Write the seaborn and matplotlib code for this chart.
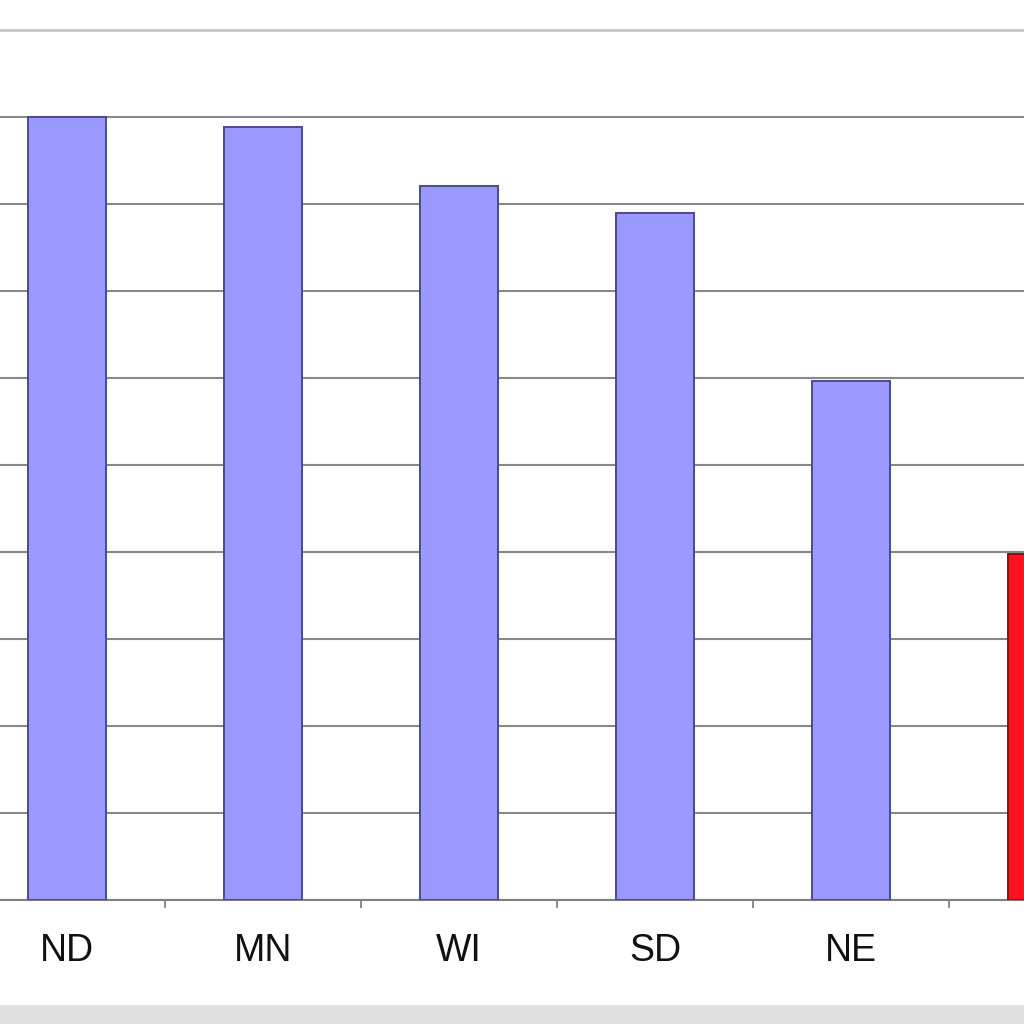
import matplotlib
matplotlib.use('Agg')
import pandas as pd
import matplotlib.pyplot as plt
import seaborn as sns
from matplotlib.patches import Rectangle

states = ["ND", "MN", "WI", "SD", "NE", "IA"]
values = [9.0, 8.89, 8.21, 7.9, 5.97, 3.98]
groups = ["other", "other", "other", "other", "other", "highlight"]

df = pd.DataFrame({"state": states, "value": values, "group": groups})

sns.set_style("white")
plt.rcParams['font.family'] = ['Liberation Sans', 'DejaVu Sans']

fig = plt.figure(figsize=(10.24, 10.24), dpi=100)
# plot area is cropped: left axis and last category fall outside the picture
ax = fig.add_axes([-31 / 1024, 124 / 1024, 1176 / 1024, 870 / 1024])

sns.barplot(data=df, x="state", y="value", hue="group",
            palette={"other": "#9999ff", "highlight": "#ff1020"},
            saturation=1, width=0.4, linewidth=1.4,
            dodge=False, legend=False, ax=ax, zorder=3)

edge = {"other": "#4a4a8c", "highlight": "#8c1010"}
for bar, g in zip(ax.patches, df["group"]):
    bar.set_edgecolor(edge[g])

ax.set_xlim(-0.5, len(states) - 0.5)
ax.set_ylim(0, 10)
ax.set_yticks(range(0, 11))
ax.set_yticklabels([])
ax.yaxis.grid(True, color="#888888", linewidth=1.5, zorder=0)
ax.set_axisbelow(True)

ax.set_xlabel("")
ax.set_ylabel("")
# last category's label lies off the cropped picture
ax.set_xticks(range(len(states)))
ax.set_xticklabels(states[:-1] + [""])
ax.tick_params(axis="x", which="major", bottom=False, length=0, pad=24,
               labelsize=27, labelcolor="#111111")
ax.set_xticks([i + 0.5 for i in range(len(states) - 1)], minor=True)
ax.tick_params(axis="x", which="minor", bottom=True, length=6, width=1.2,
               color="#777777", direction="out")
ax.tick_params(axis="y", length=0)

for side in ["left", "right"]:
    ax.spines[side].set_visible(False)
ax.spines["top"].set_color("#c4c4c4")
ax.spines["top"].set_linewidth(2)
ax.spines["bottom"].set_color("#808080")
ax.spines["bottom"].set_linewidth(1.5)

# grey band along the bottom edge of the screenshot
fig.patches.append(Rectangle((0, 0), 1, 19 / 1024, transform=fig.transFigure,
                             facecolor="#e0e0e0", edgecolor="none"))

fig.savefig("out.png", dpi=100)
plt.close(fig)
